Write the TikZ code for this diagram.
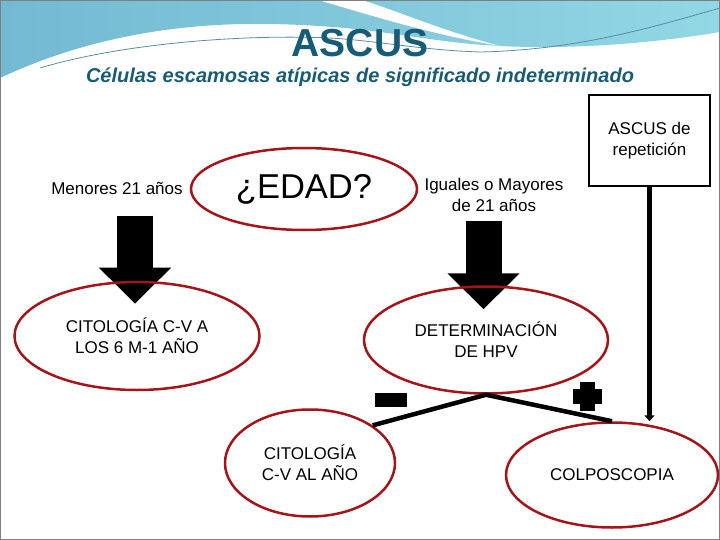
\documentclass[tikz,border=0pt]{standalone}
\usepackage{fontspec}
\setmainfont{Liberation Sans}
\usetikzlibrary{arrows.meta,positioning,shapes.geometric,backgrounds}
\definecolor{tituloazul}{RGB}{22,92,118}
\definecolor{rojoelipse}{RGB}{165,20,25}
\definecolor{olaclara}{RGB}{145,215,228}
\definecolor{olaoscura}{RGB}{115,185,210}
\definecolor{hebra}{RGB}{90,140,160}

\begin{document}
\begin{tikzpicture}[x=1pt, y=-1pt,
    oval/.style={draw=rojoelipse, line width=2.5pt, ellipse, inner sep=0pt,
                 align=center, font=\fontsize{17}{21}\selectfont},
    etiqueta/.style={align=center, font=\fontsize{17}{21}\selectfont},
    gruesa/.style={line width=36pt, -{Triangle[length=36pt 0 0, width=70pt 0 0]}},
    fina/.style={line width=4.5pt},
    signo/.style={fill=black, inner sep=0pt}
]
\useasboundingbox (0,0) rectangle (720,540);

% fondo de la cabecera
\shade[left color=olaoscura, right color=olaclara]
    (0,0) -- (720,0) -- (720,32)
    .. controls (660,42) and (580,50) .. (500,46)
    .. controls (420,42) and (380,26) .. (270,24)
    .. controls (160,22) and (70,45) .. (0,78) -- cycle;
\fill[white] (318,0) .. controls (380,18) and (430,34) .. (500,46)
    .. controls (440,30) and (400,12) .. (362,0) -- cycle;
\draw[hebra, line width=0.8pt] (40,68) .. controls (120,44) and (240,34) .. (330,38)
    .. controls (380,41) and (420,50) .. (480,52)
    .. controls (580,50) and (660,25) .. (720,8);
\draw[gray, line width=2pt] (0,0) rectangle (720,540);

% titulos
\node[font=\fontsize{39}{44}\selectfont\bfseries, text=tituloazul, anchor=base]
    (titulo) at (360,57) {ASCUS};
\node[font=\fontsize{20}{24}\selectfont\bfseries\itshape, text=tituloazul, anchor=base]
    (subtitulo) at (360,83) {Células escamosas atípicas de significado indeterminado};

% edad
\node[oval, minimum width=226, minimum height=82,
      font=\fontsize{34.5}{40}\selectfont] (edad) at (304,189) {¿EDAD?};
\node[etiqueta] (menores) at (117,188) {Menores 21 años};
\node[etiqueta] (iguales) at (494,195) {Iguales o Mayores\\de 21 años};

\node[draw, line width=2.5pt, minimum width=121, minimum height=91, etiqueta]
    (repeticion) at (649.5,140.5) {ASCUS de\\repetición};

% conductas
\node[oval, minimum width=245, minimum height=108] (cita6) at (137,336)
    {CITOLOGÍA C-V A\\LOS 6 M-1 AÑO};
\node[oval, minimum width=244, minimum height=107] (hpv) at (486,340)
    {DETERMINACIÓN\\DE HPV};
\node[oval, minimum width=170, minimum height=107] (citaano) at (310,463)
    {CITOLOGÍA\\C-V AL AÑO};
\node[oval, minimum width=212, minimum height=105] (colpo) at (612,475)
    {COLPOSCOPIA};

% resultado del HPV
\node[signo, minimum width=32, minimum height=14] (menos) at (391,400) {};
\node[signo, minimum width=15, minimum height=29] (mas) at (587.5,396.5) {};
\node[signo, minimum width=29, minimum height=15] (masb) at (mas) {};

% flechas (debajo de los ovalos)
\begin{scope}[on background layer]
\draw[gruesa] ([xshift=18pt,yshift=-18pt]menores.south) -- ++(0,88);
\draw[gruesa] ([xshift=-10.5pt,yshift=-6pt]iguales.south) -- ++(0,88);
\end{scope}
\draw[fina, -{Triangle[length=6pt 0 0, width=10pt 0 0]}]
    (repeticion.south) -- (repeticion.south |- colpo.north);
\draw[fina] (citaano.31) -- (hpv.south) -- (colpo.north);

\end{tikzpicture}
\end{document}
